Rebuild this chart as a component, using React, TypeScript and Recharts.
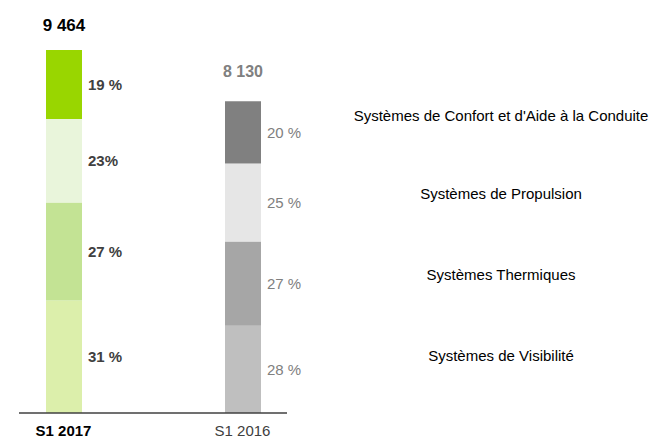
import React from "react";
import { BarChart, Bar, XAxis, YAxis, Cell, LabelList, Legend } from "recharts";

const categories = ["S1 2017", "S1 2016"];
const totals = [9464, 8130];
const totalText = ["9 464", "8 130"];

// share of each segment (%), bottom to top
const visibilitePct = [31, 28];
const thermiquesPct = [27, 27];
const propulsionPct = [23, 25];
const confortPct = [19, 20];

const visibiliteText = ["31 %", "28 %"];
const thermiquesText = ["27 %", "27 %"];
const propulsionText = ["23%", "25 %"];
const confortText = ["19 %", "20 %"];

const series = [
  { key: "visibilite", name: "Systèmes de Visibilité", pct: visibilitePct, text: visibiliteText, colors: ["#DCEFAB", "#BFBFBF"] },
  { key: "thermiques", name: "Systèmes Thermiques", pct: thermiquesPct, text: thermiquesText, colors: ["#C3E394", "#A6A6A6"] },
  { key: "propulsion", name: "Systèmes de Propulsion", pct: propulsionPct, text: propulsionText, colors: ["#E9F5DB", "#E6E6E6"] },
  { key: "confort", name: "Systèmes de Confort et d'Aide à la Conduite", pct: confortPct, text: confortText, colors: ["#99D600", "#808080"] },
];

const data = categories.map((name, i) => {
  const row: any = { name };
  series.forEach((s) => {
    row[s.key] = (totals[i] * s.pct[i]) / 100;
  });
  return row;
});

const FONT = "'Liberation Sans', Arial, sans-serif";
const W = 656;
const H = 439;
const TOP = 50;
const AXIS_H = 26;
const LEFT = 19;
const PLOT_RIGHT = 287;
const LEGEND_LEFT = 351;
const LEGEND_W = 300;
const legendY = [115, 193, 274, 355];

const pctStyle = [
  { fill: "#404040", fontWeight: 700 },
  { fill: "#808080", fontWeight: 400 },
];
const totalStyle = [
  { fill: "#000000", fontSize: 17, gap: 19 },
  { fill: "#808080", fontSize: 16, gap: 24 },
];
const tickStyle = [
  { fill: "#000000", fontWeight: 700 },
  { fill: "#404040", fontWeight: 400 },
];

const pctLabel = (texts: string[]) => (props: any) => {
  const { x, y, width, height, index } = props;
  const st = pctStyle[index];
  return (
    <text
      x={x + width + 6}
      y={y + height / 2}
      dominantBaseline="central"
      fontFamily={FONT}
      fontSize={15}
      fontWeight={st.fontWeight}
      fill={st.fill}
    >
      {texts[index]}
    </text>
  );
};

const TotalLabel = (props: any) => {
  const { x, y, width, index } = props;
  const st = totalStyle[index];
  return (
    <text
      x={x + width / 2}
      y={y - st.gap}
      textAnchor="middle"
      fontFamily={FONT}
      fontSize={st.fontSize}
      fontWeight={700}
      fill={st.fill}
    >
      {totalText[index]}
    </text>
  );
};

const Tick = (props: any) => {
  const { x, payload } = props;
  const i = categories.indexOf(payload.value);
  const st = tickStyle[i];
  return (
    <text
      x={x}
      y={H - AXIS_H + 23}
      textAnchor="middle"
      fontFamily={FONT}
      fontSize={15}
      fontWeight={st.fontWeight}
      fill={st.fill}
    >
      {payload.value}
    </text>
  );
};

const LegendContent = () => (
  <div style={{ position: "relative", width: LEGEND_W, height: H }}>
    {[...series].reverse().map((s, i) => (
      <span
        key={s.key}
        style={{
          position: "absolute",
          left: "50%",
          top: legendY[i],
          transform: "translate(-50%, -50%)",
          whiteSpace: "nowrap",
          fontFamily: FONT,
          fontSize: 15,
          color: "#000",
        }}
      >
        {s.name}
      </span>
    ))}
  </div>
);

export default function App() {
  return (
    <div style={{ position: "absolute", left: 0, top: 0, width: W, height: H, background: "#fff" }}>
      <BarChart
        width={W}
        height={H}
        data={data}
        barSize={36}
        margin={{ top: TOP, right: W - PLOT_RIGHT - LEGEND_W, bottom: 0, left: LEFT }}
      >
        <YAxis hide domain={[0, Math.max(...totals)]} allowDataOverflow />
        <XAxis
          dataKey="name"
          height={AXIS_H}
          padding={{ left: -45, right: -45 }}
          tickLine={false}
          axisLine={{ stroke: "#404040", strokeWidth: 1.5 }}
          tick={<Tick />}
          interval={0}
        />
        <Legend
          layout="vertical"
          align="right"
          verticalAlign="top"
          wrapperStyle={{ left: LEGEND_LEFT, top: 0, width: LEGEND_W, height: H }}
          content={<LegendContent />}
        />
        {series.map((s, si) => (
          <Bar key={s.key} dataKey={s.key} name={s.name} stackId="a" isAnimationActive={false}>
            {data.map((_, i) => (
              <Cell key={i} fill={s.colors[i]} />
            ))}
            <LabelList dataKey={s.key} content={pctLabel(s.text)} />
            {si === series.length - 1 && <LabelList dataKey={s.key} content={<TotalLabel />} />}
          </Bar>
        ))}
      </BarChart>
    </div>
  );
}
